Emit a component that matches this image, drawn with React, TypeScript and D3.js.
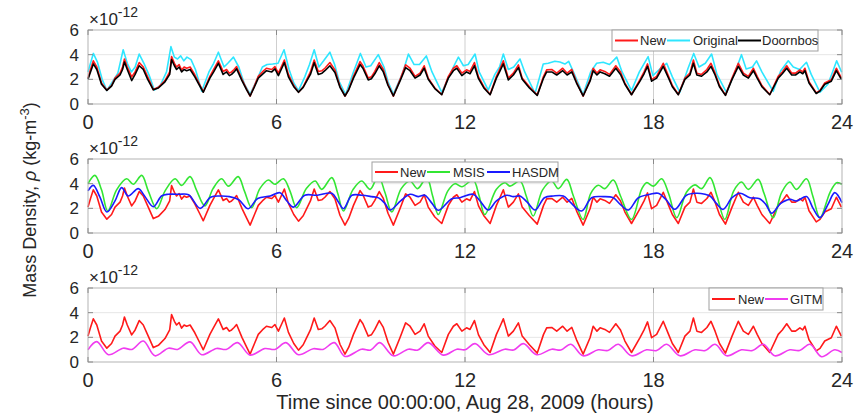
import React from 'react';
import * as d3 from 'd3';

// time axis in hours, values in units of 1e-12 kg/m^3

// "New" and "Doornbos" are read at the same times
const tNew = [
  0, 0.08, 0.17, 0.28, 0.43, 0.6,
  0.75, 0.86, 1.02, 1.1, 1.16, 1.25, 1.39, 1.5, 1.63, 1.76, 1.9, 2.08,
  2.24, 2.45, 2.6, 2.66, 2.75, 2.82, 2.9, 2.98, 3.06, 3.14, 3.25, 3.4, 3.55, 3.67,
  3.88, 4.0, 4.15, 4.3, 4.41, 4.5, 4.57, 4.65, 4.73, 4.9, 5.05, 5.16,
  5.3, 5.42, 5.55, 5.68, 5.85, 5.95, 6.06, 6.15, 6.25, 6.38, 6.55, 6.7,
  6.85, 6.96, 7.08, 7.2, 7.33, 7.45, 7.54, 7.7, 7.86, 8.02, 8.18,
  8.3, 8.45, 8.66, 8.75, 8.92, 9.02, 9.13, 9.27, 9.4, 9.55, 9.72,
  9.93, 10.11, 10.25, 10.41, 10.57, 10.7, 10.83, 11.04, 11.26,
  11.47, 11.63, 11.74, 11.9, 12.05, 12.16, 12.3, 12.43, 12.6, 12.8,
  13.0, 13.1, 13.22, 13.38, 13.54, 13.7, 13.82, 14.05, 14.3,
  14.5, 14.6, 14.76, 14.92, 15.11, 15.25, 15.4, 15.55, 15.76,
  15.98, 16.08, 16.2, 16.3, 16.45, 16.6, 16.8, 16.95, 17.09, 17.3,
  17.57, 17.7, 17.81, 17.94, 18.1, 18.31, 18.48, 18.6, 18.79,
  19.0, 19.16, 19.27, 19.38, 19.53, 19.7, 19.83, 19.96, 20.1, 20.29,
  20.5, 20.7, 20.86, 21.02, 21.18, 21.3, 21.45, 21.7,
  21.97, 22.1, 22.24, 22.4, 22.52, 22.66, 22.75, 22.82, 22.95, 23.18,
  23.3, 23.45, 23.66, 23.82, 23.98,
];
const newVals = [
  2.1, 2.8, 3.5, 3.0, 1.7, 1.12,
  1.5, 2.1, 2.5, 3.0, 3.65, 3.0, 2.2, 2.6, 3.36, 3.0, 2.2, 1.17,
  1.35, 1.9, 2.6, 3.84, 3.3, 3.0, 3.2, 2.75, 3.0, 2.9, 3.0, 2.37, 1.6, 0.99,
  2.24, 2.8, 3.5, 2.64, 2.8, 2.5, 2.6, 2.8, 3.04, 2.0, 1.2, 0.64,
  1.5, 2.24, 2.6, 2.9, 2.8, 3.04, 2.5, 3.0, 3.57, 2.4, 1.5, 0.96,
  1.4, 1.97, 2.6, 3.57, 2.64, 2.7, 2.9, 3.36, 2.77, 1.44, 0.64,
  1.2, 2.24, 3.44, 3.1, 2.1, 2.2, 2.64, 3.36, 2.8, 1.6, 0.64,
  1.97, 3.17, 2.9, 2.24, 2.5, 3.1, 2.1, 1.3, 0.77,
  2.24, 2.9, 3.1, 2.5, 2.77, 2.64, 3.36, 2.2, 1.4, 0.77,
  2.24, 2.8, 3.5, 2.1, 2.5, 3.17, 2.1, 1.4, 0.72,
  2.24, 2.77, 2.8, 2.5, 2.9, 2.5, 2.8, 1.8, 0.64,
  1.97, 2.9, 2.5, 2.77, 2.64, 2.4, 3.1, 2.6, 1.7, 0.77,
  1.97, 2.6, 3.25, 1.97, 2.24, 3.3, 2.24, 1.5, 0.77,
  2.1, 2.5, 3.57, 2.5, 2.4, 2.8, 3.3, 2.5, 1.5, 0.72,
  2.1, 3.3, 2.5, 2.24, 2.9, 2.24, 1.5, 0.77,
  2.24, 2.6, 3.1, 2.5, 2.5, 2.77, 2.6, 2.9, 1.8, 0.9,
  1.1, 1.7, 1.97, 2.9, 2.1,
];
const doornbosVals = [
  2.0, 2.6, 3.25, 2.8, 1.6, 1.1,
  1.45, 2.0, 2.35, 2.8, 3.4, 2.8, 1.9, 2.4, 3.1, 2.8, 2.0, 1.15,
  1.3, 1.8, 2.4, 3.6, 3.1, 2.8, 3.0, 2.6, 2.8, 2.7, 2.8, 2.2, 1.5, 0.95,
  2.1, 2.6, 3.3, 2.4, 2.6, 2.3, 2.4, 2.6, 2.85, 1.9, 1.15, 0.65,
  1.4, 2.1, 2.4, 2.7, 2.6, 2.85, 2.3, 2.8, 3.35, 2.2, 1.4, 0.95,
  1.35, 1.85, 2.4, 3.35, 2.4, 2.5, 2.7, 3.1, 2.55, 1.35, 0.65,
  1.15, 2.1, 3.2, 2.9, 1.95, 2.05, 2.45, 3.1, 2.6, 1.5, 0.65,
  1.85, 2.95, 2.7, 2.1, 2.35, 2.9, 2.0, 1.25, 0.75,
  2.1, 2.7, 2.9, 2.3, 2.6, 2.45, 3.1, 2.05, 1.3, 0.75,
  2.1, 2.6, 3.25, 1.95, 2.35, 2.95, 2.0, 1.3, 0.7,
  2.1, 2.6, 2.6, 2.35, 2.7, 2.35, 2.6, 1.7, 0.65,
  1.85, 2.7, 2.35, 2.6, 2.45, 2.25, 2.9, 2.4, 1.6, 0.75,
  1.85, 2.45, 3.05, 1.85, 2.1, 3.05, 2.1, 1.4, 0.75,
  2.0, 2.35, 3.3, 2.35, 2.25, 2.6, 3.05, 2.35, 1.4, 0.7,
  2.0, 3.05, 2.35, 2.1, 2.7, 2.1, 1.4, 0.75,
  2.1, 2.45, 2.9, 2.35, 2.35, 2.6, 2.45, 2.7, 1.7, 0.85,
  1.05, 1.6, 1.85, 2.7, 2.0,
];

const tOriginal = [
  0, 0.08, 0.17, 0.3, 0.45, 0.6, 0.8, 0.95, 1.12, 1.25, 1.38, 1.5, 1.63, 1.78, 1.95, 2.11,
  2.3, 2.5, 2.64, 2.75, 2.85, 2.95, 3.05, 3.15, 3.28, 3.42, 3.62,
  3.85, 4.0, 4.15, 4.33, 4.45, 4.63, 4.8, 4.98, 5.16,
  5.35, 5.55, 5.7, 5.88, 6.05, 6.24, 6.4, 6.55, 6.7,
  6.9, 7.05, 7.2, 7.35, 7.5, 7.7, 7.85, 8.0, 8.2,
  8.45, 8.67, 8.85, 9.0, 9.24, 9.42, 9.55, 9.72,
  10.0, 10.2, 10.38, 10.55, 10.77, 10.95, 11.26,
  11.45, 11.63, 11.79, 11.95, 12.1, 12.32, 12.45, 12.74,
  12.95, 13.1, 13.22, 13.38, 13.55, 13.75, 13.9, 14.23,
  14.49, 14.65, 14.86, 15.02, 15.18, 15.3, 15.45, 15.76,
  16.0, 16.19, 16.4, 16.6, 16.83, 17.0, 17.3,
  17.55, 17.83, 17.98, 18.2, 18.42, 18.6, 18.84,
  19.1, 19.28, 19.45, 19.65, 19.85, 20.02, 20.32,
  20.6, 20.8, 20.95, 21.15, 21.28, 21.45, 21.81,
  22.05, 22.29, 22.45, 22.65, 22.87, 23.02, 23.3,
  23.55, 23.7, 23.83, 23.99,
];
const originalVals = [
  2.6, 3.3, 4.1, 3.4, 2.0, 1.1, 1.9, 2.5, 4.4, 3.3, 2.6, 3.0, 4.05, 3.3, 2.3, 1.13,
  1.5, 2.6, 4.65, 3.8, 3.65, 3.9, 3.5, 3.8, 3.6, 2.8, 1.03,
  2.6, 3.3, 4.2, 3.0, 3.3, 3.8, 3.0, 1.6, 0.8,
  1.8, 3.0, 3.2, 3.24, 3.3, 4.4, 2.8, 1.7, 1.08,
  2.2, 3.2, 4.4, 3.0, 3.5, 4.2, 3.2, 1.8, 0.76,
  2.6, 4.1, 3.0, 3.1, 4.0, 3.0, 1.8, 0.8,
  2.4, 4.05, 3.2, 3.2, 3.9, 2.6, 0.95,
  2.0, 3.0, 3.8, 3.1, 3.2, 4.05, 2.6, 1.13,
  2.4, 3.0, 4.05, 2.8, 3.0, 3.65, 2.6, 0.86,
  3.24, 3.3, 3.46, 3.4, 3.24, 3.46, 2.6, 0.76,
  2.6, 3.3, 3.38, 3.2, 3.8, 2.6, 1.08,
  2.6, 3.84, 2.3, 2.84, 3.3, 2.2, 0.95,
  2.9, 4.1, 3.0, 3.3, 4.05, 2.4, 0.95,
  2.6, 4.0, 2.84, 3.0, 3.5, 2.6, 1.03,
  2.7, 3.5, 3.0, 2.8, 3.38, 2.4, 0.95,
  1.6, 2.6, 3.5, 2.57,
];

const tMsis = [
  0, 0.22, 0.43, 0.63, 0.91, 1.23, 1.44, 1.71, 1.92, 2.19,
  2.45, 2.77, 2.98, 3.25, 3.45, 3.72, 3.98, 4.25, 4.47, 4.78, 4.98, 5.21,
  5.47, 5.74, 5.95, 6.22, 6.43, 6.64, 6.95, 7.23, 7.44, 7.76, 7.95, 8.13,
  8.43, 8.71, 8.98, 9.24, 9.45, 9.67, 9.97, 10.25, 10.49, 10.78, 10.97, 11.15,
  11.45, 11.68, 11.9, 12.26, 12.45, 12.63, 13.0, 13.27, 13.43, 13.75, 13.95, 14.17,
  14.47, 14.76, 14.97, 15.24, 15.45, 15.76, 16.0, 16.24, 16.45, 16.72, 16.95, 17.3,
  17.62, 17.78, 18.0, 18.26, 18.48, 18.74, 19.05, 19.32, 19.53, 19.8, 20.02, 20.27,
  20.55, 20.8, 21.02, 21.33, 21.52, 21.81, 22.08, 22.34, 22.55, 22.87, 23.07, 23.3,
  23.62, 23.83, 24.0,
];
const msisVals = [
  4.0, 4.67, 3.5, 1.78, 3.5, 4.4, 3.95, 4.67, 3.4, 1.97,
  3.4, 4.4, 3.86, 4.57, 3.5, 2.2, 3.6, 4.4, 3.8, 4.57, 3.4, 2.05,
  3.6, 4.3, 3.95, 4.4, 3.4, 2.05, 3.6, 4.22, 3.54, 4.49, 3.2, 1.78,
  3.5, 4.22, 3.54, 4.62, 3.3, 1.7, 3.6, 4.22, 3.6, 4.49, 3.0, 1.5,
  3.4, 4.0, 3.75, 4.3, 3.0, 1.5, 3.54, 4.08, 3.8, 4.22, 3.0, 1.38,
  3.5, 4.22, 3.6, 4.35, 3.0, 1.1, 3.2, 3.87, 3.6, 4.3, 3.0, 1.1,
  3.54, 4.08, 3.8, 4.4, 3.2, 1.24, 3.3, 3.9, 3.6, 4.49, 3.0, 1.1,
  3.4, 4.13, 3.54, 4.35, 3.2, 1.24, 3.3, 4.13, 3.54, 4.4, 3.0, 1.24,
  3.3, 4.08, 3.95,
];

const tHasdm = [
  0, 0.17, 0.38, 0.6, 0.86, 1.07, 1.28, 1.6, 1.8, 2.08,
  2.34, 2.55, 2.9, 3.2, 3.57, 3.9, 4.2, 4.5, 4.8, 5.1,
  5.4, 5.8, 6.11, 6.33, 6.54, 6.9, 7.3, 7.76, 7.95, 8.13,
  8.4, 8.71, 9.03, 9.25, 9.45, 9.61, 9.95, 10.25, 10.52, 10.72, 10.95, 11.15,
  11.58, 11.84, 12.26, 12.48, 12.74, 13.0, 13.33, 13.54, 13.75, 13.98, 14.23,
  14.53, 14.81, 15.13, 15.35, 15.71, 16.03, 16.4, 16.72, 16.95, 17.2,
  17.52, 17.89, 18.15, 18.4, 18.68, 19.05, 19.37, 19.64, 19.8, 20.0, 20.22,
  20.5, 20.75, 21.07, 21.38, 21.58, 21.76, 22.05, 22.34, 22.55, 22.87, 23.08, 23.3,
  23.55, 23.77, 24.0,
];
const hasdmVals = [
  3.41, 3.86, 2.9, 1.7, 2.6, 3.68, 3.0, 3.6, 3.0, 2.13,
  3.0, 3.14, 3.14, 3.1, 2.0, 2.9, 3.0, 2.95, 2.7, 1.97,
  2.8, 3.0, 3.27, 2.6, 2.1, 3.06, 3.06, 3.22, 2.6, 1.97,
  3.06, 3.06, 2.95, 2.85, 2.4, 1.86, 2.6, 3.14, 2.95, 3.06, 2.4, 1.84,
  2.78, 2.86, 3.14, 2.6, 1.86, 2.6, 3.06, 2.95, 3.0, 2.5, 1.86,
  2.86, 3.0, 3.0, 2.5, 1.78, 2.86, 2.95, 2.86, 2.3, 1.86,
  2.86, 3.14, 3.22, 2.7, 1.92, 3.06, 3.22, 3.14, 3.0, 2.4, 1.92,
  2.86, 3.22, 2.86, 2.78, 2.3, 1.6, 2.4, 2.73, 2.6, 2.95, 2.0, 1.24,
  2.3, 3.27, 2.46,
];

const tGitm = [
  0, 0.28, 0.65, 1.12, 1.4, 1.76, 2.13, 2.56, 2.85, 3.25, 3.62,
  4.09, 4.4, 4.76, 5.16, 5.63, 5.95, 6.3, 6.7, 7.17, 7.48, 7.84, 8.18,
  8.71, 9.0, 9.29, 9.72, 10.2, 10.5, 10.83, 11.31, 11.74, 12.0, 12.32, 12.75,
  13.27, 13.55, 13.86, 14.28, 14.76, 15.05, 15.37, 15.76, 16.24, 16.55, 16.88, 17.3,
  17.78, 18.1, 18.42, 18.84, 19.32, 19.65, 19.96, 20.33, 20.8, 21.15, 21.5, 21.86,
  22.34, 22.65, 22.98, 23.35, 23.77, 24.0,
];
const gitmVals = [
  1.0, 1.65, 0.59, 1.12, 1.02, 1.7, 0.5, 1.12, 1.02, 1.63, 0.59,
  1.1, 1.02, 1.57, 0.56, 1.09, 1.02, 1.57, 0.59, 1.08, 1.02, 1.57, 0.45,
  1.04, 0.97, 1.57, 0.5, 1.04, 0.97, 1.57, 0.56, 1.04, 0.99, 1.49, 0.59,
  1.04, 0.97, 1.49, 0.59, 1.04, 0.97, 1.44, 0.5, 0.99, 0.93, 1.44, 0.5,
  0.99, 0.93, 1.44, 0.5, 0.99, 0.93, 1.44, 0.5, 0.99, 0.93, 1.44, 0.5,
  0.99, 0.93, 1.44, 0.43, 0.99, 0.77,
];

const xTicks = [0, 6, 12, 18, 24];
const yTicks = [0, 2, 4, 6];

const FONT = '"Liberation Sans", Arial, Helvetica, sans-serif';
const TXT = '#262626';

const W = 854, H = 414;
const left = 88, right = 842, plotH = 74;
const panelTops = [30, 159, 288];

const x = d3.scaleLinear().domain([0, 24]).range([left, right]);

type Series = { t: number[]; v: number[]; color: string; smooth?: boolean };
type LegendItem = { label: string; color: string; lineX: number; textX: number };

function Panel({ top, series, legend, legendBox }: {
  top: number;
  series: Series[];
  legend: LegendItem[];
  legendBox: [number, number, number, number];
}) {
  const y = d3.scaleLinear().domain([0, 6]).range([top + plotH, top]);
  const bottom = top + plotH;
  const [lx, ly, lw, lh] = legendBox;
  return (
    <g>
      <rect x={left} y={top} width={right - left} height={plotH} fill="#fff" />
      {yTicks.slice(1, -1).map(v => (
        <line key={'gy' + v} x1={left} x2={right} y1={y(v)} y2={y(v)} stroke="#e6e6e6" strokeWidth={1} />
      ))}
      {xTicks.slice(1, -1).map(v => (
        <line key={'gx' + v} x1={x(v)} x2={x(v)} y1={top} y2={bottom} stroke="#cfcfcf" strokeWidth={1} />
      ))}
      {series.map((s, i) => {
        const n = Math.min(s.t.length, s.v.length);
        const pts: [number, number][] = d3.range(n).map(k => [s.t[k], s.v[k]]);
        const line = d3.line<[number, number]>()
          .x(d => x(d[0]))
          .y(d => y(d[1]))
          .curve(s.smooth ? d3.curveCatmullRom.alpha(0.5) : d3.curveLinear);
        return <path key={i} d={line(pts) || ''} fill="none" stroke={s.color} strokeWidth={1.6} strokeLinejoin="round" />;
      })}
      <rect x={left} y={top} width={right - left} height={plotH} fill="none" stroke="#b3b3b3" strokeWidth={1} />
      {yTicks.map(v => (
        <g key={'yt' + v}>
          <line x1={left} x2={left + 5} y1={y(v)} y2={y(v)} stroke="#8a8a8a" />
          <line x1={right - 5} x2={right} y1={y(v)} y2={y(v)} stroke="#8a8a8a" />
          <text x={left - 9} y={y(v) + 6} textAnchor="end" fontSize={17} fill={TXT} fontFamily={FONT}>{v}</text>
        </g>
      ))}
      {xTicks.map(v => (
        <g key={'xt' + v}>
          <line x1={x(v)} x2={x(v)} y1={bottom} y2={bottom - 5} stroke="#8a8a8a" />
          <line x1={x(v)} x2={x(v)} y1={top} y2={top + 5} stroke="#8a8a8a" />
          <text x={x(v)} y={bottom + 25} textAnchor="middle" fontSize={20} fill={TXT} fontFamily={FONT}>{v}</text>
        </g>
      ))}
      <text x={left + 1} y={top - 5} fontSize={17} fill={TXT} fontFamily={FONT}>
        ×10<tspan dy={-8} fontSize={14}>-12</tspan>
      </text>
      <rect x={lx} y={ly} width={lw} height={lh} fill="#fff" stroke="#a0a0a0" strokeWidth={1} />
      {legend.map(it => (
        <g key={it.label}>
          <line x1={it.lineX} x2={it.lineX + 23} y1={ly + lh / 2} y2={ly + lh / 2} stroke={it.color} strokeWidth={2} />
          <text x={it.textX} y={ly + lh / 2 + 4.5} fontSize={13} fill={TXT} fontFamily={FONT}>{it.label}</text>
        </g>
      ))}
    </g>
  );
}

export default function App() {
  return (
    <svg width={W} height={H} style={{ position: 'absolute', left: 0, top: 0, background: '#fff' }}>
      <rect width={W} height={H} fill="#fff" />
      <Panel
        top={panelTops[0]}
        series={[
          { t: tOriginal, v: originalVals, color: '#2ee6ff' },
          { t: tNew, v: newVals, color: '#ff1a1a' },
          { t: tNew, v: doornbosVals, color: '#000000' },
        ]}
        legendBox={[612, 30, 206, 21]}
        legend={[
          { label: 'New', color: '#ff1a1a', lineX: 615, textX: 640 },
          { label: 'Original', color: '#2ee6ff', lineX: 667, textX: 693 },
          { label: 'Doornbos', color: '#000000', lineX: 738, textX: 762 },
        ]}
      />
      <Panel
        top={panelTops[1]}
        series={[
          { t: tNew, v: newVals, color: '#ff1a1a' },
          { t: tMsis, v: msisVals, color: '#33e633', smooth: true },
          { t: tHasdm, v: hasdmVals, color: '#1a1aff', smooth: true },
        ]}
        legendBox={[372, 162, 186, 20]}
        legend={[
          { label: 'New', color: '#ff1a1a', lineX: 375, textX: 400 },
          { label: 'MSIS', color: '#33e633', lineX: 427, textX: 453 },
          { label: 'HASDM', color: '#1a1aff', lineX: 487, textX: 512 },
        ]}
      />
      <Panel
        top={panelTops[2]}
        series={[
          { t: tNew, v: newVals, color: '#ff1a1a' },
          { t: tGitm, v: gitmVals, color: '#f03cf0', smooth: true },
        ]}
        legendBox={[709, 288, 114, 22]}
        legend={[
          { label: 'New', color: '#ff1a1a', lineX: 712, textX: 738 },
          { label: 'GITM', color: '#f03cf0', lineX: 765, textX: 790 },
        ]}
      />
      <text
        transform="translate(36,200) rotate(-90)"
        textAnchor="middle"
        fontSize={18}
        fill={TXT}
        fontFamily={FONT}
      >
        Mass Density, <tspan fontStyle="italic">ρ</tspan> (kg-m<tspan dy={-7} fontSize={13}>-3</tspan><tspan dy={7}>)</tspan>
      </text>
      <text x={465} y={409} textAnchor="middle" fontSize={20} fill={TXT} fontFamily={FONT}>
        Time since 00:00:00, Aug 28, 2009 (hours)
      </text>
    </svg>
  );
}
